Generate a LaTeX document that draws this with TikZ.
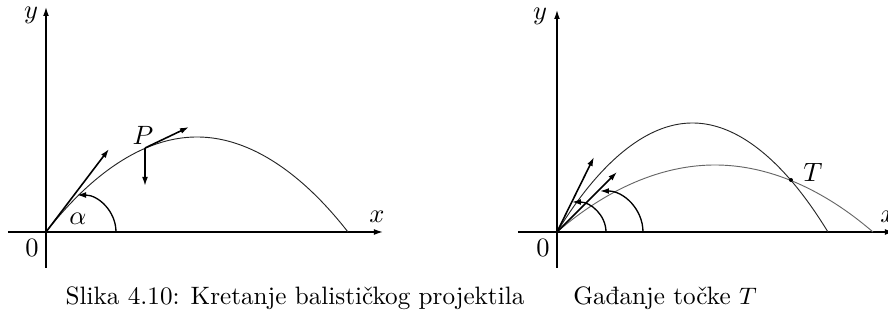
\documentclass[tikz,border=0pt]{standalone}
\usepackage{fontspec}
\usetikzlibrary{arrows.meta}
\begin{document}
\begin{tikzpicture}[x=0.01328cm, y=0.01328cm, >={Latex[length=3.4pt,width=2.2pt]},
    axis/.style={->, line width=0.5pt},
    curve/.style={line width=0.35pt, black!85},
    vel/.style={->, line width=0.6pt},
    angarc/.style={->, line width=0.5pt},
    lbl/.style={inner sep=1pt},
    caption/.style={font=\fontsize{9.5}{11.5}\selectfont}]
\useasboundingbox (-46,-91) rectangle (842,232);

% Left: projectile path
\coordinate (O) at (0,0);
\coordinate (xa) at (-38,0);
\coordinate (xb) at (337,0);
\coordinate (ya) at (0,-36);
\coordinate (yb) at (0,225);
\draw[axis] (xa) -- (xb);
\draw[axis] (ya) -- (yb);
\node[lbl] (xl) at (331,15) {$x$};
\node[lbl] (yl) at (-15,217) {$y$};
\node[lbl] (zero) at (-14,-16) {$0$};

\draw[curve] (O) parabola bend (151,95) (302,0);

% Initial velocity and angle
\coordinate (v0) at (63,83);
\draw[vel] (O) -- (v0);
\draw[angarc] (70,0) arc[start angle=0, end angle=90, x radius=39, y radius=37];
\node[lbl] (alpha) at (32,13) {$\alpha$};

% Point P with velocity and weight
\coordinate (P) at (99,84);
\coordinate (vP) at (143,105);
\coordinate (gP) at (99,46);
\draw[vel] (P) -- (vP);
\draw[vel] (P) -- (gP);
\node[anchor=south, inner sep=1pt] (Pl) at (97,84) {$P$};

\node[caption] (cap1) at (249,-66) {Slika 4.10: Kretanje balističkog projektila};

% Right: hitting the point T
\begin{scope}[shift={(511,0)}]
\coordinate (O2) at (0,0);
\coordinate (xa2) at (-39,0);
\coordinate (xb2) at (337,0);
\coordinate (ya2) at (0,-36);
\coordinate (yb2) at (0,222);
\draw[axis] (xa2) -- (xb2);
\draw[axis] (ya2) -- (yb2);
\node[lbl] (xl2) at (331,15) {$x$};
\node[lbl] (yl2) at (-17,216) {$y$};
\node[lbl] (zero2) at (-14,-16) {$0$};

\draw[curve] (O2) parabola bend (135.5,109) (271,0);
\draw[curve, black!60] (O2) parabola bend (158,67) (316,0);

\foreach \vx/\vy/\ax/\rx/\ry in {37/75/49/34/30, 60/60/86/43/41} {
    \draw[vel] (O2) -- (\vx,\vy);
    \draw[angarc] (\ax,0) arc[start angle=0, end angle=90, x radius=\rx, y radius=\ry];
}

\fill (234,52) circle (2);
\node[lbl] (T) at (256,60) {$T$};
\end{scope}

\node[caption] (cap2) at (619,-66) {Gađanje točke $T$};
\end{tikzpicture}
\end{document}
